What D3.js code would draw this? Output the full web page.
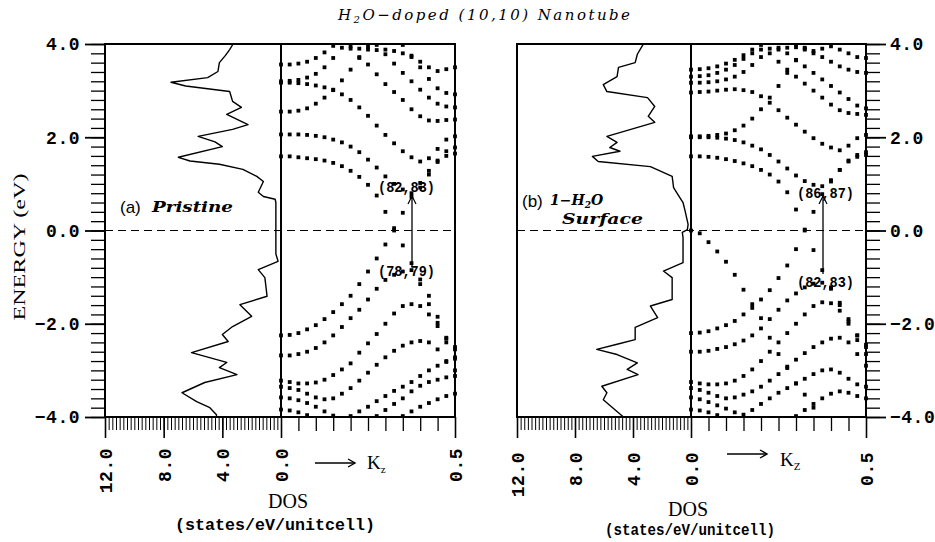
<!DOCTYPE html>
<html><head><meta charset="utf-8">
<script src="https://cdn.jsdelivr.net/npm/d3@7"></script>
<style>body{margin:0;background:#fff}</style>
</head><body><svg id="c" width="935" height="542" style="background:#fff"></svg>
<script>
// ---------- data ----------
const kPoints = [0,0.025,0.05,0.075,0.1,0.125,0.15,0.175,0.2,0.225,0.25,0.275,0.3,0.325,0.35,0.375,0.4,0.425,0.45,0.475,0.5];
const energyTicks = [-4,-2,0,2,4];
const dosTicks = [12,8,4,0];
const kTicks = [0.5];

// DOS panel (a)
const dosEnergyA = [4.0,3.88,3.75,3.6,3.41,3.28,3.18,3.10,2.98,2.77,2.64,2.49,2.27,2.17,2.02,1.90,1.80,1.57,1.49,1.42,1.31,1.16,1.05,0.82,0.73,0.67,0.6,-0.5,-0.66,-0.84,-1.01,-1.41,-1.59,-1.84,-2.06,-2.23,-2.38,-2.62,-2.83,-2.94,-3.09,-3.26,-3.48,-3.67,-3.80,-3.95,-4.0];
const dosValueA  = [3.27,3.5,3.8,4.2,4.3,5.0,7.5,6.5,3.5,3.3,2.7,3.7,2.25,3.3,5.65,4.5,4.0,7.0,6.2,4.2,2.6,1.65,1.2,1.55,1.2,0.4,0.35,0.35,0.2,1.55,1.1,0.95,2.8,2.0,3.3,4.0,3.6,6.1,3.7,4.2,3.0,5.2,6.75,5.75,4.85,4.4,4.4];
// DOS panel (b)
const dosEnergyB = [3.99,3.78,3.6,3.5,3.3,3.13,2.98,2.85,2.66,2.45,2.32,2.02,1.89,1.78,1.70,1.59,1.48,1.37,1.16,0.92,0.77,0.6,0.41,0.13,0.02,-0.04,-0.15,-0.69,-0.87,-1.01,-1.48,-1.62,-1.87,-2.08,-2.34,-2.44,-2.55,-2.66,-2.84,-2.98,-3.09,-3.34,-3.48,-3.63,-3.99];
const dosValueB  = [3.3,3.7,3.85,5.0,5.1,6.05,5.8,3.0,2.5,2.95,2.5,5.8,5.1,5.6,4.9,6.8,6.4,2.8,1.3,1.2,0.9,0.55,0.4,0.2,0.25,0.6,0.55,0.55,1.9,1.3,1.3,2.8,2.3,3.85,3.85,5.1,6.5,5.1,3.7,4.4,3.65,6.15,5.8,6.05,4.7];

const N = null;
// bands panel (a): energy at each kPoint
const bandsA = [
 [1.59,1.59,1.57,1.55,1.53,1.50,1.45,1.38,1.28,1.15,0.98,0.75,0.40,0.00,-0.32,-0.70,-1.15,-1.58,-1.98,-2.32,-2.55],
 [-2.25,-2.24,-2.20,-2.12,-2.03,-1.90,-1.75,-1.58,-1.40,-1.15,-0.88,-0.60,-0.30,0.05,0.38,0.72,1.02,1.28,1.47,1.60,1.65],
 [2.06,2.06,2.06,2.05,2.03,2.00,1.95,1.89,1.80,1.68,1.52,1.35,1.16,1.00,0.88,0.80,0.92,1.20,1.50,1.70,1.78],
 [2.55,2.55,2.57,2.62,2.72,2.85,3.02,3.22,3.45,3.70,3.95,N,N,N,N,N,N,N,N,N,N],
 [3.17,3.17,3.16,3.14,3.11,3.07,3.01,2.92,2.80,2.64,2.46,2.25,2.05,1.87,1.70,1.57,1.48,1.55,1.75,1.95,2.02],
 [3.20,3.21,3.23,3.28,3.36,3.50,3.70,3.92,N,N,N,N,N,N,N,N,N,N,N,N,N],
 [3.56,3.56,3.58,3.62,3.70,3.82,3.96,N,N,N,N,N,N,N,N,N,N,N,N,N,N],
 [N,N,N,N,N,N,N,N,3.90,3.72,3.56,3.35,3.14,2.97,2.80,2.60,2.45,2.36,2.35,2.37,2.38],
 [N,N,N,N,N,N,N,N,N,N,N,3.98,3.78,3.58,3.38,3.20,3.02,2.85,2.72,2.66,2.64],
 [N,N,N,N,N,N,N,N,3.95,3.90,3.88,3.87,3.88,3.85,3.80,3.72,3.62,3.50,3.42,3.46,3.50],
 [N,N,N,N,N,N,N,N,N,N,N,N,N,N,3.98,3.75,3.50,3.25,3.05,2.95,2.92],
 [-2.68,-2.68,-2.65,-2.60,-2.52,-2.40,-2.25,-2.07,-1.88,-1.70,-1.48,-1.25,-1.06,-0.95,-0.88,-0.85,-1.05,-1.40,-1.85,-2.30,-2.50],
 [-3.22,-3.25,-3.28,-3.28,-3.26,-3.20,-3.10,-2.98,-2.85,-2.62,-2.42,-2.22,-2.00,-1.78,-1.62,-1.58,-1.62,-1.80,-2.05,-2.40,-2.72],
 [-3.35,-3.38,-3.42,-3.50,-3.58,-3.62,-3.60,-3.50,-3.38,-3.22,-3.05,-2.88,-2.72,-2.58,-2.47,-2.40,-2.37,-2.40,-2.55,-2.80,-3.00],
 [-3.58,-3.60,-3.64,-3.70,-3.78,-3.88,-3.97,N,N,N,N,-3.98,-3.85,-3.72,-3.60,-3.45,-3.33,-3.25,-3.20,-3.15,-3.12],
 [-3.84,-3.86,-3.90,-3.96,N,N,N,N,-3.98,-3.88,-3.78,-3.66,-3.55,-3.44,-3.35,-3.25,-3.12,-3.00,-2.90,-2.82,-2.75],
 [N,N,N,N,N,N,N,N,N,N,N,N,N,N,-3.98,-3.88,-3.78,-3.70,-3.62,-3.55,-3.50]
];
// bands panel (b)
const bandsB = [
 [1.59,1.59,1.58,1.56,1.53,1.49,1.44,1.38,1.30,1.20,1.05,0.82,0.45,0.02,-0.42,-0.85,-1.22,-1.60,-1.95,-2.25,-2.45],
 [-2.20,-2.19,-2.16,-2.10,-2.03,-1.94,-1.80,-1.66,-1.48,-1.28,-1.02,-0.75,-0.40,0.00,0.40,0.78,1.05,1.30,1.48,1.58,1.62],
 [2.00,2.00,2.00,1.99,1.97,1.94,1.89,1.82,1.74,1.62,1.48,1.33,1.18,1.06,0.98,0.95,1.08,1.30,1.50,1.62,1.68],
 [2.02,2.02,2.03,2.05,2.08,2.15,2.25,2.40,2.60,2.85,3.10,3.38,3.65,3.92,N,N,N,N,N,N,N],
 [2.96,2.97,2.98,3.00,3.02,3.03,3.01,2.97,2.88,2.74,2.58,2.42,2.27,2.12,1.98,1.86,1.78,1.72,1.82,1.98,2.05],
 [3.45,3.46,3.48,3.52,3.58,3.66,3.76,3.88,3.98,N,N,N,N,N,N,N,N,N,N,N,N],
 [3.30,3.31,3.33,3.38,3.45,3.55,3.68,3.80,3.88,3.80,3.62,3.45,3.30,3.15,3.00,2.85,2.70,2.58,2.52,2.50,2.48],
 [3.17,3.17,3.18,3.20,3.24,3.30,3.40,3.55,3.72,3.90,N,N,N,N,N,N,N,N,N,N,N],
 [N,N,N,N,N,N,N,N,N,N,3.92,3.80,3.66,3.52,3.38,3.24,3.10,2.96,2.82,2.68,2.62],
 [N,N,N,N,N,N,N,N,N,N,N,N,3.98,3.88,3.80,3.72,3.62,3.52,3.45,3.40,3.38],
 [N,N,N,N,N,N,N,N,N,N,3.88,3.92,3.93,3.90,3.85,3.90,3.95,3.88,3.80,3.72,3.70],
 [0.00,-0.06,-0.25,-0.45,-0.67,-0.95,-1.27,-1.58,-1.88,-2.30,-2.65,-2.95,-3.28,-3.52,-3.80,N,N,N,N,N,N],
 [-2.60,-2.60,-2.58,-2.54,-2.50,-2.44,-2.36,-2.25,-2.10,-1.90,-1.70,-1.50,-1.35,-1.22,-1.14,-1.12,-1.25,-1.55,-1.90,-2.25,-2.50],
 [-3.25,-3.28,-3.30,-3.30,-3.28,-3.22,-3.12,-2.98,-2.80,-2.60,-2.40,-2.20,-2.00,-1.80,-1.62,-1.54,-1.56,-1.72,-2.00,-2.35,-2.65],
 [-3.38,-3.42,-3.48,-3.55,-3.60,-3.58,-3.52,-3.45,-3.35,-3.22,-3.08,-2.92,-2.77,-2.63,-2.50,-2.40,-2.32,-2.30,-2.40,-2.65,-2.90],
 [-3.58,-3.62,-3.68,-3.75,-3.82,-3.90,-3.95,-3.85,-3.72,-3.60,-3.48,-3.38,-3.28,-3.18,-3.08,-3.00,-2.98,-3.05,-3.18,-3.30,-3.35],
 [N,N,N,N,N,N,N,N,N,N,N,N,-3.98,-3.85,-3.72,-3.60,-3.50,-3.45,-3.48,-3.55,-3.60],
 [-3.84,-3.86,-3.90,-3.96,N,N,N,N,N,N,N,N,N,N,N,N,N,N,N,N,N]
];

// ---------- drawing ----------
const svg = d3.select('#c');
const y = d3.scaleLinear().domain([-4,4]).range([417,44]);
const MONO = "'Liberation Mono', 'DejaVu Sans Mono', monospace";
const SERIF = "'Liberation Serif', 'DejaVu Serif', serif";

function styleAxis(g, w){
  g.select('.domain').remove();
  g.selectAll('.tick line').attr('stroke','#000').attr('stroke-width',w || 1.4);
  g.attr('font-family', MONO).attr('font-size',18).attr('font-weight','bold');
  g.selectAll('.tick text').attr('fill','#000').attr('letter-spacing','0.5px');
}

function drawPanel(xDos, xK, dosE, dosV, bands, labelTop){
  const g = svg.append('g');
  const line = d3.line().x((d,i)=>xDos(dosV[i])).y(d=>y(d));
  g.append('path').datum(dosE).attr('d', line).attr('fill','none')
    .attr('stroke','#000').attr('stroke-width',1.4).attr('stroke-linejoin','round');
  bands.forEach(b=>{
    const pts = b.map((e,i)=>({k:kPoints[i], e})).filter(d=>d.e!==null && d.e<=4 && d.e>=-4);
    g.append('g').selectAll('rect').data(pts).join('rect')
      .attr('x',d=>xK(d.k)-1.9).attr('y',d=>y(d.e)-1.9)
      .attr('width',3.8).attr('height',3.8).attr('fill','#000');
  });
  g.append('line').attr('x1',xDos(12)).attr('x2',xK(0.5)).attr('y1',y(0)).attr('y2',y(0))
    .attr('stroke','#000').attr('stroke-width',1.2).attr('stroke-dasharray','8,5');
  g.append('rect').attr('x',xDos(12)).attr('y',y(4)).attr('width',xK(0.5)-xDos(12))
    .attr('height',y(-4)-y(4)).attr('fill','none').attr('stroke','#000').attr('stroke-width',2);
  g.append('line').attr('x1',xK(0)).attr('x2',xK(0)).attr('y1',y(4)).attr('y2',y(-4))
    .attr('stroke','#000').attr('stroke-width',2);
  const base = y(-4);
  g.append('g').attr('transform',`translate(0,${base})`)
    .call(d3.axisBottom(xDos).tickValues(d3.range(0,12.001,0.25)).tickSize(13).tickFormat(''))
    .call(a=>styleAxis(a,1));
  g.append('g').attr('transform',`translate(0,${base})`)
    .call(d3.axisBottom(xK).tickValues(d3.range(0.05,0.499,0.05)).tickSize(14).tickFormat(''))
    .call(a=>styleAxis(a,1.3));
  const maj = g.append('g').attr('transform',`translate(0,${base})`)
    .call(d3.axisBottom(xDos).tickValues(dosTicks).tickSize(21).tickFormat(d3.format('.1f')))
    .call(a=>styleAxis(a,1.6));
  const majK = g.append('g').attr('transform',`translate(0,${base})`)
    .call(d3.axisBottom(xK).tickValues(kTicks).tickSize(21).tickFormat(d3.format('.1f')))
    .call(a=>styleAxis(a,1.6));
  [maj, majK].forEach(a=>a.selectAll('.tick text')
    .attr('transform','rotate(-90)').attr('x',-(labelTop-base)).attr('y',0)
    .attr('dy','0.36em').attr('text-anchor','end'));
  return g;
}

const xDosA = d3.scaleLinear().domain([12,0]).range([105,281]);
const xKA = d3.scaleLinear().domain([0,0.5]).range([281,455]);
drawPanel(xDosA, xKA, dosEnergyA, dosValueA, bandsA, 448);
const xDosB = d3.scaleLinear().domain([12,0]).range([517,691]);
const xKB = d3.scaleLinear().domain([0,0.5]).range([691,866]);
drawPanel(xDosB, xKB, dosEnergyB, dosValueB, bandsB, 452);

svg.append('g').attr('transform',`translate(${xDosA(12)},0)`)
  .call(d3.axisLeft(y).tickValues(d3.range(-4,4.001,0.2)).tickSize(14).tickFormat(''))
  .call(a=>styleAxis(a,1.3));
svg.append('g').attr('transform',`translate(${xDosA(12)},0)`)
  .call(d3.axisLeft(y).tickValues(energyTicks).tickSize(20).tickPadding(5).tickFormat(d3.format('.1f')))
  .call(a=>styleAxis(a,1.8));
svg.append('g').attr('transform',`translate(${xKB(0.5)},0)`)
  .call(d3.axisRight(y).tickValues(d3.range(-4,4.001,0.2)).tickSize(14).tickFormat(''))
  .call(a=>styleAxis(a,1.3));
svg.append('g').attr('transform',`translate(${xKB(0.5)},0)`)
  .call(d3.axisRight(y).tickValues(energyTicks).tickSize(20).tickPadding(4).tickFormat(d3.format('.1f')))
  .call(a=>styleAxis(a,1.8));

// ---------- texts ----------
function txt(x, yy, s, o={}){
  const t = svg.append('text').attr('x',x).attr('y',yy).text(s)
    .attr('font-family', o.ff || SERIF).attr('font-size', o.fs || 16)
    .attr('fill','#000');
  if (o.fw) t.attr('font-weight', o.fw);
  if (o.st) t.attr('font-style', o.st);
  if (o.anchor) t.attr('text-anchor', o.anchor);
  if (o.len) t.attr('textLength', o.len).attr('lengthAdjust','spacingAndGlyphs');
  if (o.tr) t.attr('transform', o.tr);
  return t;
}
const title = svg.append('text').attr('x',338).attr('y',20).attr('fill','#000')
  .attr('font-family',"'DejaVu Serif', serif").attr('font-style','italic').attr('font-size',15)
  .attr('textLength',292).attr('lengthAdjust','spacing');
title.append('tspan').text('H');
title.append('tspan').text('2').attr('font-size',10).attr('dy',3);
title.append('tspan').text('O\u2212doped  (10,10)  Nanotube').attr('dy',-3);

txt(0,0,'ENERGY (eV)',{fs:17, anchor:'middle', len:147, tr:'translate(25,247) rotate(-90)'});

txt(288,508,'DOS',{fs:20, anchor:'middle', len:40});
txt(275,530,'(states/eV/unitcell)',{ff:MONO, fs:16, fw:'bold', anchor:'middle', len:200});
txt(688,516,'DOS',{fs:20, anchor:'middle', len:40});
txt(690,535,'(states/eV/unitcell)',{ff:MONO, fs:16, fw:'bold', anchor:'middle', len:170});

function kArrow(x1, x2, yy, kx, ky, sub){
  svg.append('line').attr('x1',x1).attr('x2',x2).attr('y1',yy).attr('y2',yy).attr('stroke','#000').attr('stroke-width',1.4);
  svg.append('path').attr('d',`M${x2-7},${yy-4}L${x2},${yy}L${x2-7},${yy+4}`).attr('fill','none').attr('stroke','#000').attr('stroke-width',1.4);
  const t = svg.append('text').attr('x',kx).attr('y',ky).attr('font-family',SERIF).attr('font-size',19).attr('fill','#000');
  t.append('tspan').text('K');
  t.append('tspan').text(sub).attr('font-size',11).attr('dy',4);
}
kArrow(315,355,463,367,469,'z');
kArrow(727,767,454,780,466,'Z');

txt(120,213,'(a)',{ff:"'Liberation Sans', Arial, sans-serif", fs:17});
txt(152,212,'Pristine',{ff:"'DejaVu Serif', serif", fs:15, fw:'bold', st:'italic', len:81});
txt(522,207,'(b)',{ff:"'Liberation Sans', Arial, sans-serif", fs:17});
const hl = svg.append('text').attr('x',550).attr('y',205).attr('font-family',"'DejaVu Serif', serif")
  .attr('font-size',14).attr('font-weight','bold').attr('font-style','italic').attr('fill','#000');
hl.append('tspan').text('1\u2212H');
hl.append('tspan').text('2').attr('font-size',9).attr('dy',3);
hl.append('tspan').text('O').attr('dy',-3);
txt(562,224,'Surface',{ff:"'DejaVu Serif', serif", fs:15, fw:'bold', st:'italic', len:81});

function trans(x, yTop, yBot, lblTop, lblBot, lx, lyTop, lyBot){
  svg.append('line').attr('x1',x).attr('x2',x).attr('y1',yBot).attr('y2',yTop).attr('stroke','#000').attr('stroke-width',1.3);
  svg.append('path').attr('d',`M${x-4},${yTop+8}L${x},${yTop}L${x+4},${yTop+8}`).attr('fill','none').attr('stroke','#000').attr('stroke-width',1.2);
  txt(lx,lyTop,lblTop,{ff:MONO, fs:14, fw:'bold', len:57});
  txt(lx,lyBot,lblBot,{ff:MONO, fs:14, fw:'bold', len:57});
}
trans(412,196,267,'(82,83)','(78,79)',378,192,276);
trans(823,196,274,'(86,87)','(82,83)',797,198,287);
</script></body></html>
